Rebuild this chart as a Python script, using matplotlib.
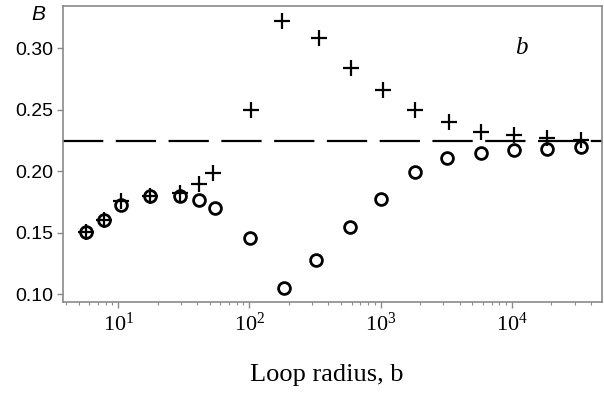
import matplotlib
matplotlib.use("Agg")
import matplotlib.pyplot as plt
from matplotlib.ticker import LogLocator, NullFormatter, FixedLocator

plt.rcParams["mathtext.fontset"] = "custom"
plt.rcParams["mathtext.rm"] = "Liberation Serif"
plt.rcParams["mathtext.it"] = "Liberation Serif:italic"

# ============================================
# DATA
# ============================================
radius_circ = [5.7, 7.8, 10.5, 17.5, 29.6, 41.5, 54.7, 101, 182, 323, 579, 1006,
               1840, 3210, 5770, 10350, 18400, 33400]
b_circ = [0.151, 0.160, 0.173, 0.180, 0.180, 0.177, 0.170, 0.146, 0.105, 0.128,
          0.155, 0.1775, 0.1995, 0.2105, 0.2145, 0.217, 0.218, 0.220]

radius_cross = [5.7, 7.8, 10.5, 17.5, 29.6, 41.5, 53, 102, 176, 336, 594, 1035,
                1840, 3340, 5770, 10350, 18400, 33400]
b_cross = [0.151, 0.160, 0.176, 0.180, 0.182, 0.190, 0.199, 0.250, 0.322, 0.308,
           0.284, 0.266, 0.250, 0.240, 0.232, 0.2295, 0.227, 0.2255]

b_limit = 0.225
x_ticks = [10, 100, 1000, 10000]
x_ticklabels = [r"$\mathrm{10^1}$", r"$\mathrm{10^2}$", r"$\mathrm{10^3}$", r"$\mathrm{10^4}$"]
y_ticks = [0.10, 0.15, 0.20, 0.25, 0.30]
y_ticklabels = ["0.10", "0.15", "0.20", "0.25", "0.30"]

# ============================================
# PLOT
# ============================================
fig = plt.figure(figsize=(6.04, 3.98), dpi=100)
ax = fig.add_axes([0.1043, 0.242, 0.8924, 0.743])

ax.plot(radius_circ, b_circ, linestyle="none", marker="o", markersize=8.5,
        markerfacecolor="none", markeredgecolor="black", markeredgewidth=2.0)
ax.plot(radius_cross, b_cross, linestyle="none", marker="+", markersize=11,
        markeredgecolor="black", markeredgewidth=1.6)

lw = 1.6
ax.axhline(b_limit, color="black", lw=lw, dashes=(29 / lw, 9 / lw))

ax.set_xscale("log")
ax.set_xlim(3.79, 48600)
ax.set_ylim(0.094, 0.3344)

ax.xaxis.set_major_locator(FixedLocator(x_ticks))
ax.xaxis.set_minor_locator(LogLocator(base=10, subs=range(2, 10)))
ax.xaxis.set_minor_formatter(NullFormatter())
ax.set_xticklabels(x_ticklabels, fontsize=16)
ax.set_yticks(y_ticks)
ax.set_yticklabels(y_ticklabels, fontfamily="Liberation Sans", fontsize=14)

for s in ax.spines.values():
    s.set_color("#8a8a8a")
    s.set_linewidth(1.2)
ax.tick_params(axis="both", which="major", length=4, width=1, color="#8a8a8a", pad=3)
ax.tick_params(axis="x", which="minor", length=2, width=0.8, color="#8a8a8a")

ax.text(-0.045, 0.97, "B", transform=ax.transAxes, fontfamily="Liberation Sans",
        fontstyle="italic", fontsize=15, ha="center", va="center")
ax.text(0.85, 0.858, "b", transform=ax.transAxes, fontfamily="Liberation Serif",
        fontstyle="italic", fontsize=18, ha="center", va="center")

fig.text(0.541, 0.058, "Loop radius, b", fontfamily="Liberation Serif",
         fontsize=19, ha="center", va="center")

fig.savefig("out.png", dpi=100)
